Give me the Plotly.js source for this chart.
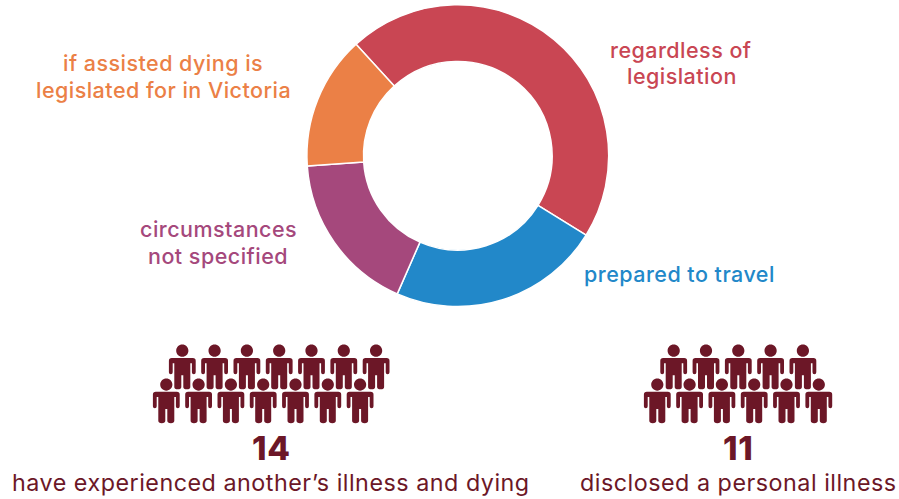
<!DOCTYPE html>
<html>
<head>
<meta charset="utf-8">
<script src="https://cdn.plot.ly/plotly-3.0.1.min.js"></script>
<style>html,body{margin:0;padding:0;background:#fff}#chart{width:899px;height:499px}.annotation-text{letter-spacing:0.022em}</style>
</head>
<body>
<div id="chart"></div>
<script>
const categories = ['regardless of legislation', 'prepared to travel', 'circumstances not specified', 'if assisted dying is legislated for in Victoria'];
const shares = [45.6, 22.75, 17.35, 14.3];
const sliceColors = ['#C94653', '#2288C9', '#A5487C', '#EB8046'];
const peopleCounts = [14, 11];
const peopleLabels = ['have experienced another’s illness and dying', 'disclosed a personal illness'];
const peopleColor = '#6C1727';

const W = 899, H = 499;
const cx = 457.8, cy = 155.7, R = 150.9;

function personPath(x, y) {
  // x, y = head centre
  const p = (dx, dy) => (x + dx).toFixed(2) + ' ' + (y + dy).toFixed(2);
  const r = 6.1, k = r * 0.5523;
  const head = 'M' + p(-r, 0) +
    ' C' + p(-r, -k) + ' ' + p(-k, -r) + ' ' + p(0, -r) +
    ' C' + p(k, -r) + ' ' + p(r, -k) + ' ' + p(r, 0) +
    ' C' + p(r, k) + ' ' + p(k, r) + ' ' + p(0, r) +
    ' C' + p(-k, r) + ' ' + p(-r, k) + ' ' + p(-r, 0) + ' Z';
  const body = 'M' + p(-10.5, 7.2) + ' L' + p(10.5, 7.2) +
    ' Q' + p(13.4, 7.2) + ' ' + p(13.4, 10) +
    ' L' + p(13.4, 21.6) + ' Q' + p(13.4, 23.6) + ' ' + p(11.5, 23.6) +
    ' Q' + p(9.6, 23.6) + ' ' + p(9.6, 21.6) +
    ' L' + p(9.6, 12.5) + ' L' + p(8, 12.5) +
    ' L' + p(8, 36.2) + ' Q' + p(8, 38.6) + ' ' + p(4.6, 38.6) +
    ' Q' + p(1, 38.6) + ' ' + p(1, 36.2) +
    ' L' + p(1, 24.5) + ' L' + p(-1, 24.5) +
    ' L' + p(-1, 36.2) + ' Q' + p(-1, 38.6) + ' ' + p(-4.6, 38.6) +
    ' Q' + p(-8, 38.6) + ' ' + p(-8, 36.2) +
    ' L' + p(-8, 12.5) + ' L' + p(-9.6, 12.5) +
    ' L' + p(-9.6, 21.6) + ' Q' + p(-9.6, 23.6) + ' ' + p(-11.5, 23.6) +
    ' Q' + p(-13.4, 23.6) + ' ' + p(-13.4, 21.6) +
    ' L' + p(-13.4, 10) + ' Q' + p(-13.4, 7.2) + ' ' + p(-10.5, 7.2) + ' Z';
  return head + ' ' + body;
}

// One pictogram per person: upper row first, the remainder in the lower row.
const groups = [
  {upper: 7, ux: 182.3, lx: 166.3},
  {upper: 5, ux: 673.7, lx: 657.3}
];
const shapes = [];
groups.forEach((g, k) => {
  for (let i = 0; i < peopleCounts[k]; i++) {
    const top = i < g.upper;
    const x = top ? g.ux + 32.3 * i : g.lx + 32.3 * (i - g.upper);
    const y = top ? 350.7 : 384.6;
    shapes.push({type: 'path', xref: 'x', yref: 'y', path: personPath(x, y),
      fillcolor: peopleColor, line: {width: 0}, layer: 'above'});
  }
});

const font = 'Inter, "Open Sans", sans-serif';
function note(text, x, y, size, color, weight) {
  return {text: text, x: x / W, y: 1 - y / H, xref: 'paper', yref: 'paper', showarrow: false,
    xanchor: 'center', yanchor: 'middle', align: 'center', borderpad: 0,
    font: {family: font, size: size, color: color, weight: weight || 500}};
}
const annotations = [
  note('regardless of', 681, 49.5, 21.5, sliceColors[0]),
  note('legislation', 682, 76, 21.5, sliceColors[0]),
  note('prepared to travel', 679.5, 273.5, 21.5, sliceColors[1]),
  note('circumstances', 218, 229.5, 21.5, sliceColors[2]),
  note('not specified', 218, 255.5, 21.5, sliceColors[2]),
  note('if assisted dying is', 163, 63.5, 21.5, sliceColors[3]),
  note('legislated for in Victoria', 163, 89.5, 21.5, sliceColors[3]),
  note(String(peopleCounts[0]), 271.5, 447.5, 33, peopleColor, 800),
  note(String(peopleCounts[1]), 738, 447.5, 33, peopleColor, 800),
  note(peopleLabels[0], 271, 482, 23.3, peopleColor, 400),
  note(peopleLabels[1], 738.5, 482, 23.3, peopleColor, 400)
];

const trace = {
  type: 'pie', labels: categories, values: shares, hole: 0.625, sort: false,
  direction: 'clockwise', rotation: -42.4, textinfo: 'none', showlegend: false, hoverinfo: 'label',
  marker: {colors: sliceColors, line: {color: '#ffffff', width: 1.5}},
  domain: {x: [(cx - R) / W, (cx + R) / W], y: [1 - (cy + R) / H, 1 - (cy - R) / H]}
};

const hidden = {visible: false, fixedrange: true};
const layout = {
  width: W, height: H, margin: {l: 0, r: 0, t: 0, b: 0},
  paper_bgcolor: '#fff', plot_bgcolor: 'rgba(0,0,0,0)', showlegend: false,
  xaxis: Object.assign({range: [0, W]}, hidden),
  yaxis: Object.assign({range: [H, 0]}, hidden),
  shapes: shapes, annotations: annotations
};
Plotly.newPlot('chart', [trace], layout, {displayModeBar: false, staticPlot: true});
</script>
</body>
</html>
